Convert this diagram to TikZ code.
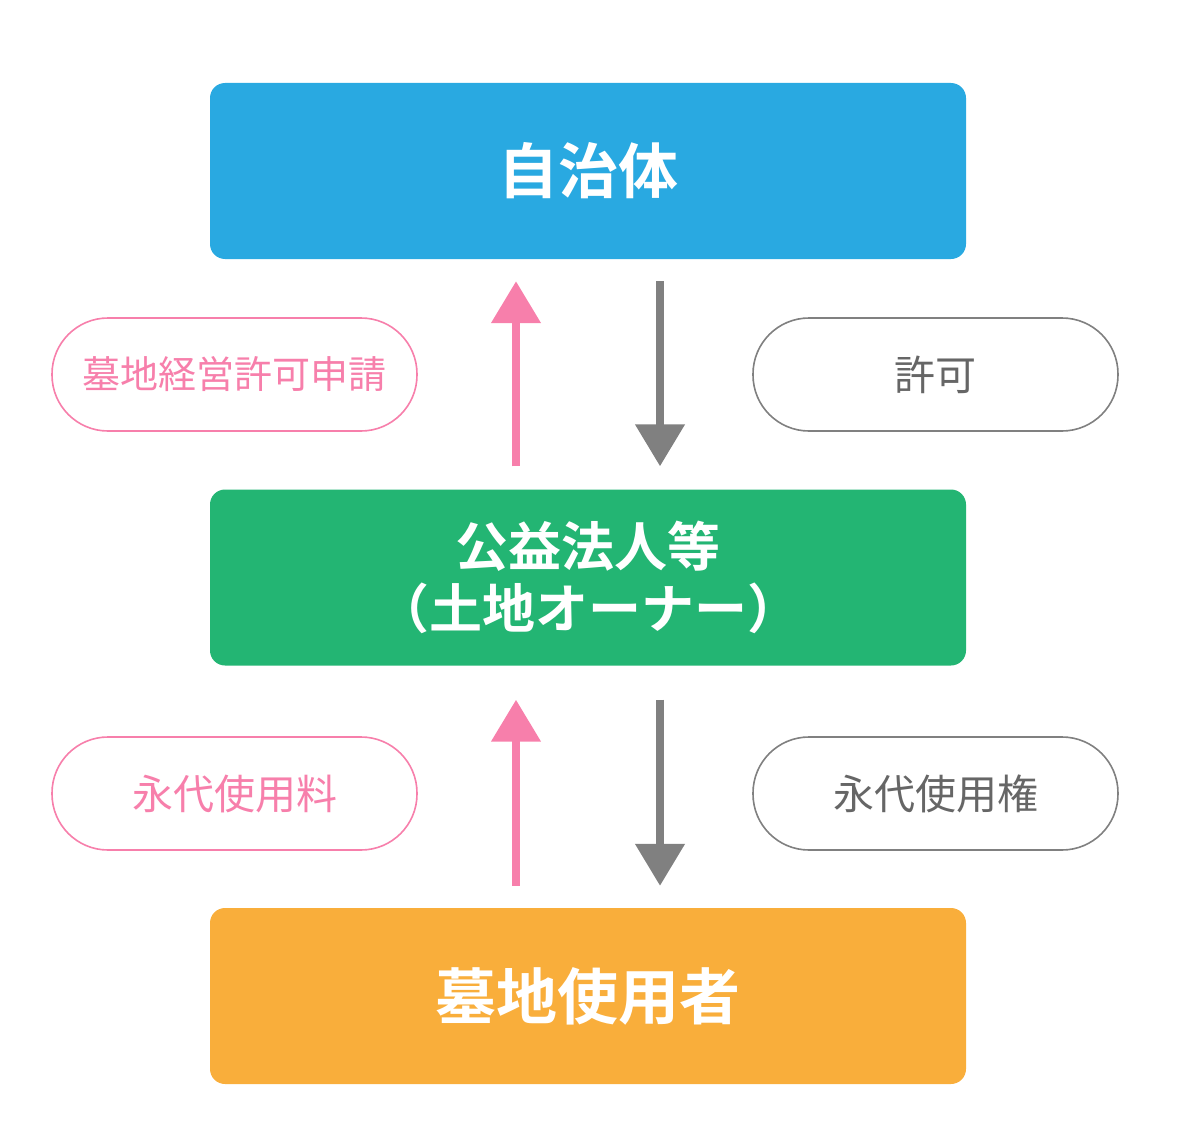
\documentclass[tikz,border=0pt]{standalone}
\usepackage{fontspec}
\usetikzlibrary{arrows.meta,positioning,calc}
\newfontfamily\jpfont{Noto Sans CJK JP}
\newfontfamily\jpbold{Noto Sans CJK JP Bold}
\definecolor{jichiblue}{HTML}{29A9E1}
\definecolor{hojingreen}{HTML}{23B573}
\definecolor{riyoorange}{HTML}{F9AE3B}
\definecolor{shinpink}{HTML}{F77FAB}
\definecolor{kyogray}{HTML}{808080}
\definecolor{kyotext}{HTML}{666666}
\tikzset{
  bigbox/.style={rectangle, rounded corners=15pt, minimum width=756pt,
    minimum height=176pt, inner sep=0pt, text=white, align=center},
  pill/.style={rectangle, rounded corners=56pt, minimum width=365pt,
    minimum height=113pt, inner sep=0pt, line width=1.6pt, fill=white,
    font=\jpfont\fontsize{41}{46}\selectfont},
  flowarrow/.style={line width=8pt,
    -{Triangle[length=42pt,width=48pt]}},
}

\begin{document}
\begin{tikzpicture}[x=1pt, y=-1pt]
\useasboundingbox (0,0) rectangle (1195,1140);

% Hauptkästen
\node[bigbox, fill=jichiblue, font=\jpbold\fontsize{60}{66}\selectfont]
  (jichitai) at (588,171) {自治体};
\node[bigbox, fill=hojingreen, font=\jpbold\fontsize{53}{62}\selectfont]
  (koeki) at (588,577.5) {公益法人等\\（土地オーナー）};
\node[bigbox, fill=riyoorange, font=\jpbold\fontsize{61}{66}\selectfont]
  (shiyosha) at (588,996) {\raisebox{-3pt}{墓地使用者}};

% Beschriftungen
\node[pill, draw=shinpink, text=shinpink,
  font=\jpfont\fontsize{38}{44}\selectfont] (shinsei) at (234.5,374.5) {墓地経営許可申請};
\node[pill, draw=kyogray, text=kyotext] (kyoka) at (935.5,374.5) {許可};
\node[pill, draw=shinpink, text=shinpink] (ryo) at (234.5,793.5) {永代使用料};
\node[pill, draw=kyogray, text=kyotext] (ken) at (935.5,793.5) {永代使用権};

% Pfeile oben
\coordinate (upA) at ($(koeki.north)+(-72,-23)$);
\coordinate (upB) at ($(jichitai.south)+(-72,22)$);
\coordinate (dnA) at ($(jichitai.south)+(72,22)$);
\coordinate (dnB) at ($(koeki.north)+(72,-23)$);
\draw[flowarrow, shinpink] (upA) -- (upB);
\draw[flowarrow, kyogray] (dnA) -- (dnB);

% Pfeile unten
\coordinate (upC) at ($(shiyosha.north)+(-72,-22)$);
\coordinate (upD) at ($(koeki.south)+(-72,34)$);
\coordinate (dnC) at ($(koeki.south)+(72,34)$);
\coordinate (dnD) at ($(shiyosha.north)+(72,-22)$);
\draw[flowarrow, shinpink] (upC) -- (upD);
\draw[flowarrow, kyogray] (dnC) -- (dnD);

\end{tikzpicture}
\end{document}
